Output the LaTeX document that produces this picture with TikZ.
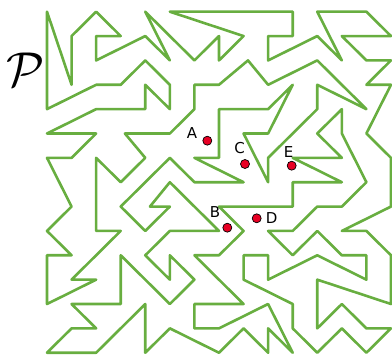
\documentclass[tikz,border=0pt]{standalone}
\usepackage{fontspec}
\setsansfont{DejaVu Sans}
\begin{document}
\begin{tikzpicture}[x=1pt,y=-1pt]
\definecolor{wallgreen}{RGB}{104,174,64}
\definecolor{dotred}{RGB}{232,0,36}
\tikzset{
  wall/.style={draw=wallgreen, line width=2.6pt, line join=round, line cap=round},
  pin/.style={circle, fill=dotred, draw=black, line width=0.7pt, minimum size=9pt, inner sep=0pt},
  lbl/.style={font=\sffamily\fontsize{15}{15}\selectfont, inner sep=0pt}
}
\useasboundingbox (0,0) rectangle (392,355);
\begin{scope}[shift={(47,11.7)}, x=24.57pt, y=-24.36pt]
\draw[wall] (0,0) -- (1,3) -- (1,1) -- (2,0) -- (3,1) -- (2,1) -- (2,2) -- (4,1) -- (5,2) -- (4,0) -- (6,2) -- (7,1) -- (7,2) -- (8,1) -- (5,0) -- (10,0) -- (10,1) -- (9,1) -- (9,2) -- (11,1) -- (12,2) -- (11,0) -- (13,0) -- (14,1) -- (12,1) -- (13,2) -- (14,2) -- (13,3) -- (14,3) -- (13,5) -- (14,6) -- (14,8) -- (12,9) -- (13,9) -- (14,10) -- (14,12) -- (11,11) -- (11,13) -- (12,12) -- (13,13) -- (14,13) -- (13,14) -- (12,13) -- (11,14) -- (10,13) -- (10,12) -- (8,11) -- (8,10) -- (9,10) -- (9,11) -- (11,10) -- (13,11) -- (13,10) -- (12,10) -- (11,9) -- (10,10) -- (9,9) -- (10,9) -- (11,8) -- (12,8) -- (13,7) -- (12,5) -- (12,4) -- (11,5) -- (12,6) -- (10,6) -- (12,7) -- (10,7) -- (10,8) -- (7,8) -- (8,9) -- (7,10) -- (6,10) -- (8,12) -- (6,12) -- (6,13) -- (7,13) -- (9,12) -- (10,14) -- (9,13) -- (9,14) -- (8,13) -- (7,14) -- (5,13) -- (4,14) -- (4,12) -- (2,14) -- (0,14) -- (1,13) -- (2,13) -- (1,12) -- (3,12) -- (3,10) -- (5,12) -- (6,11) -- (5,10) -- (5,11) -- (4,10) -- (5,9) -- (7,9) -- (5,7) -- (4.19,8) -- (5,8) -- (4,9) -- (3,8) -- (5,6) -- (6,7) -- (8,7) -- (6,6) -- (7,6) -- (7,4) -- (9,4) -- (10,3) -- (9,5) -- (8,5) -- (9,7) -- (9,6) -- (11,4) -- (11,3) -- (13,4) -- (11,2) -- (9,3) -- (8.18,2) -- (7,3) -- (6,3) -- (6,4) -- (5,5) -- (3.17,5) -- (4,6) -- (3,7) -- (2,6) -- (2,9) -- (3,9) -- (1,11) -- (2,11) -- (0,12) -- (0,10) -- (1,10) -- (0,9) -- (1,8) -- (0,6) -- (1,6) -- (2,5) -- (0,5) -- (2,4) -- (4,4) -- (4,3) -- (5,4) -- (5,3) -- (4,2) -- (3,3) -- (2,3) -- (0,4) -- cycle;
\end{scope}
\node[inner sep=0pt, font=\fontsize{10}{10}\selectfont, scale=4.9] (P) at (25.3,70) {$\mathcal{P}$};
\node[pin] (A) at (207.3,140.7) {};
\node[pin] (C) at (245,164) {};
\node[pin] (E) at (291.7,165.7) {};
\node[pin] (B) at (227.3,227.7) {};
\node[pin] (D) at (256.7,218.3) {};
\node[lbl] (lA) at (192,132.7) {A};
\node[lbl] (lC) at (239.5,147.7) {C};
\node[lbl] (lE) at (288.5,151.7) {E};
\node[lbl] (lB) at (215,211.7) {B};
\node[lbl] (lD) at (271.7,217.7) {D};
\end{tikzpicture}
\end{document}
